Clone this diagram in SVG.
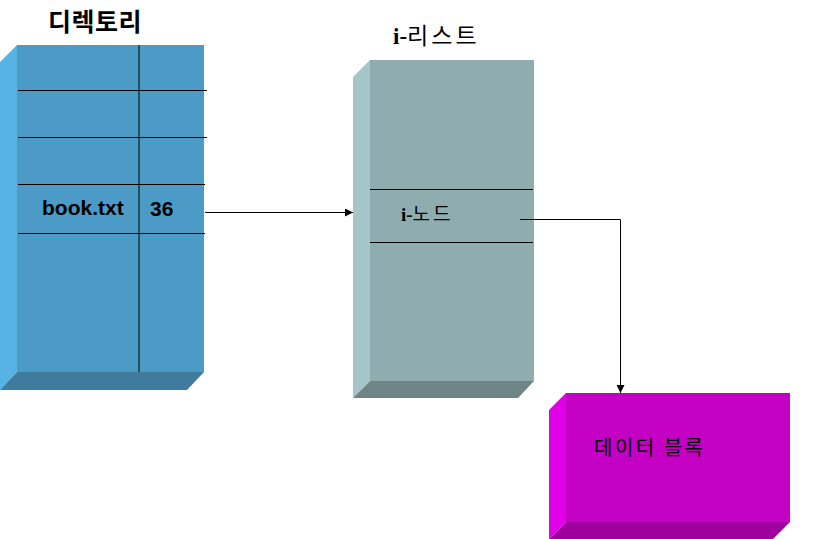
<svg xmlns="http://www.w3.org/2000/svg" width="816" height="539" viewBox="0 0 816 539">
<style>
.t{font-family:"Liberation Sans","Noto Sans CJK KR",sans-serif;fill:#000}
.k{font-family:"Noto Sans CJK KR","Liberation Sans",sans-serif;fill:#000}
.ln{stroke:#000;stroke-width:1;fill:none}
</style>
<defs>
<marker id="ah" viewBox="0 0 10 10" refX="10" refY="5" markerWidth="8" markerHeight="8" orient="auto" markerUnits="userSpaceOnUse">
<path d="M0,0 L10,5 L0,10 z" fill="#000"/>
</marker>
</defs>
<rect width="816" height="539" fill="#fff"/>
<g id="directory">
<polygon points="0,62 17,45 17,372 0,390" fill="#56B3E3"/>
<polygon points="0,390 17,372 204,372 187,390" fill="#3E7B9C"/>
<rect x="17" y="45" width="187" height="327" fill="#4B9BC6"/>
<line class="ln" x1="139" y1="45" x2="139" y2="372"/>
<line class="ln" x1="18" y1="90.5" x2="207" y2="90.5"/>
<line class="ln" x1="18" y1="137.5" x2="207" y2="137.5"/>
<line class="ln" x1="18" y1="184.5" x2="205" y2="184.5"/>
<line class="ln" x1="18" y1="233.5" x2="205" y2="233.5"/>
<text class="t" x="42" y="215" font-size="21" font-weight="bold" fill="#0a0a2a">book.txt</text>
<text class="t" x="150" y="216" font-size="21" font-weight="bold" fill="#0a0a2a">36</text>
<text class="k" x="48" y="31" font-size="25" font-weight="bold" letter-spacing="0.5">디렉토리</text>
</g>
<g id="ilist">
<polygon points="353,77 370,60 370,381 353,398" fill="#A6C5C8"/>
<polygon points="353,398 370,381 534,381 518,398" fill="#6E8485"/>
<rect x="370" y="60" width="164" height="321" fill="#8FADAE"/>
<line class="ln" x1="370" y1="189.5" x2="533" y2="189.5"/>
<line class="ln" x1="370" y1="242.5" x2="533" y2="242.5"/>
<text class="k" x="393" y="44" font-size="23" letter-spacing="3"><tspan font-weight="bold" font-family="Liberation Serif" letter-spacing="0">i-</tspan>리스트</text>
<text class="k" x="401" y="221" font-size="19" letter-spacing="3"><tspan font-weight="bold" font-family="Liberation Serif" letter-spacing="0">i-</tspan>노드</text>
</g>
<g id="datablock">
<polygon points="549,410 566,393 566,522 549,539" fill="#E000E6"/>
<polygon points="549,539 566,522 790,522 773,539" fill="#9E009E"/>
<rect x="566" y="393" width="224" height="129" fill="#C300C3"/>
<text class="k" x="594" y="455" font-size="20" letter-spacing="2.5">데이터 블록</text>
</g>
<g id="connectors">
<line class="ln" x1="205" y1="212.5" x2="353" y2="212.5" marker-end="url(#ah)"/>
<polyline class="ln" points="520,219.5 620.5,219.5 620.5,393" marker-end="url(#ah)"/>
</g>
</svg>
